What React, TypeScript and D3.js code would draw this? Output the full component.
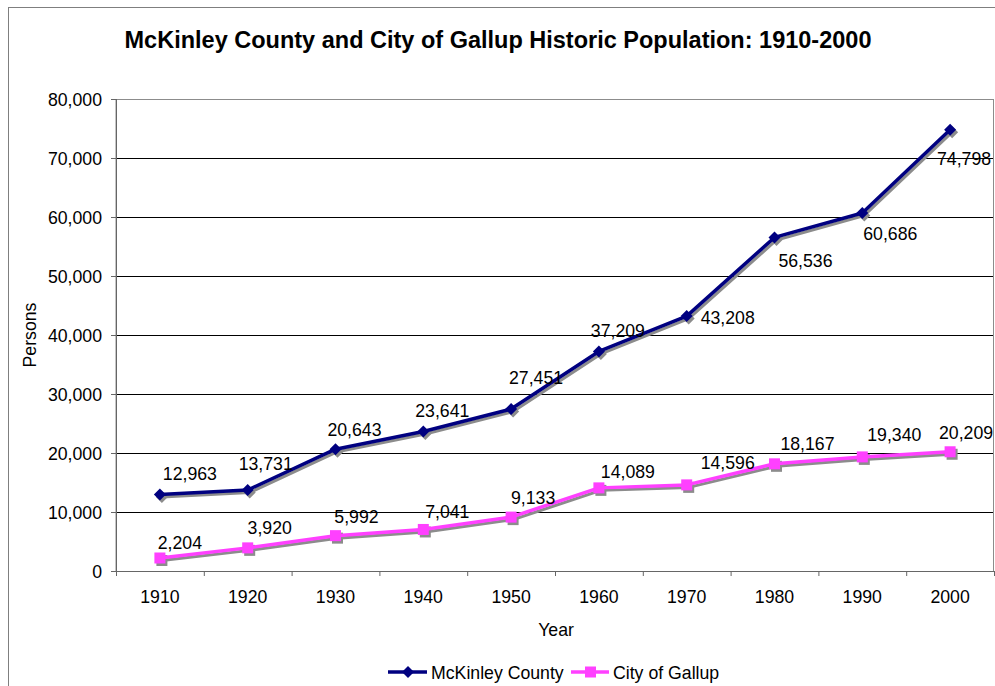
import React from "react";
import * as d3 from "d3";

const years = ["1910", "1920", "1930", "1940", "1950", "1960", "1970", "1980", "1990", "2000"];
const mckinley = [12963, 13731, 20643, 23641, 27451, 37209, 43208, 56536, 60686, 74798];
const gallup = [2204, 3920, 5992, 7041, 9133, 14089, 14596, 18167, 19340, 20209];
const yTicks = [0, 10000, 20000, 30000, 40000, 50000, 60000, 70000, 80000];

// label placement offsets (styling, not data)
const mcLabelOffsets: [number, number][] = [
  [30, -21], [18, -26], [19, -20], [19, -21], [25, -32], [19, -21], [41, 1], [31, 23], [28, 21], [14, 29],
];
const gaLabelOffsets: [number, number][] = [
  [20, -15], [22, -20], [21, -19], [24, -18], [22, -20], [29, -16], [41, -22], [33, -20], [32, -22], [16, -19],
];

const W = 995;
const H = 686;
const FONT = "'Liberation Sans', Arial, sans-serif";
const NAVY = "#000080";
const MAGENTA = "#FF40FF";
const SHADOW = "#8c8c8c";
const FS = 17.7;

export default function App() {
  const left = 116, right = 994, top = 99, bottom = 571;
  const x = d3.scaleBand<string>().domain(years).range([left, right]).paddingInner(0).paddingOuter(0);
  const y = d3.scaleLinear().domain([0, 80000]).range([bottom, top]);
  const cx = (yr: string) => (x(yr) as number) + x.bandwidth() / 2;
  const fmt = d3.format(",");

  const line = d3.line<number>().x((_, i) => cx(years[i])).y((d) => y(d));

  const diamond = (px: number, py: number, s = 6) =>
    `M${px},${py - s}L${px + s},${py}L${px},${py + s}L${px - s},${py}Z`;

  const series = [
    { name: "McKinley County", values: mckinley, color: NAVY, marker: "diamond", offsets: mcLabelOffsets },
    { name: "City of Gallup", values: gallup, color: MAGENTA, marker: "square", offsets: gaLabelOffsets },
  ];

  const drawMarker = (kind: string, px: number, py: number, fill: string, key: string) =>
    kind === "diamond" ? (
      <path key={key} d={diamond(px, py)} fill={fill} />
    ) : (
      <rect key={key} x={px - 5.5} y={py - 5.5} width={11} height={11} fill={fill} />
    );

  return (
    <svg
      width={W}
      height={H}
      style={{ position: "absolute", left: 0, top: 0, background: "#fff" }}
      fontFamily={FONT}
    >
      <rect x={0} y={0} width={W} height={H} fill="#fff" />
      <rect x={8.5} y={7.5} width={1000} height={700} fill="#fff" stroke="#7f7f7f" strokeWidth={1} />
      <text x={498} y={48} textAnchor="middle" fontSize={23.5} fontWeight="bold" fill="#000">
        McKinley County and City of Gallup Historic Population: 1910-2000
      </text>

      {/* plot area border */}
      <rect x={left} y={top + 0.5} width={right - left - 0.5} height={bottom - top} fill="none" stroke="#8c8c8c" strokeWidth={1} />

      {/* gridlines */}
      {yTicks.filter((t) => t > 0 && t < 80000).map((t) => (
        <line key={t} x1={left} x2={right - 1} y1={y(t) + 0.5} y2={y(t) + 0.5} stroke="#000" strokeWidth={1} />
      ))}

      {/* y axis */}
      <line x1={left + 0.5} x2={left + 0.5} y1={top} y2={bottom + 5} stroke="#666" strokeWidth={1} />
      {yTicks.map((t) => (
        <g key={t}>
          <line x1={left - 5} x2={left} y1={y(t) + 0.5} y2={y(t) + 0.5} stroke="#666" />
          <text x={102} y={y(t) + 6.5} textAnchor="end" fontSize={FS} fill="#000">
            {fmt(t)}
          </text>
        </g>
      ))}

      {/* x axis */}
      <line x1={left} x2={right} y1={bottom + 0.5} y2={bottom + 0.5} stroke="#666" strokeWidth={1} />
      {years.map((yr) => (
        <g key={yr}>
          <line x1={(x(yr) as number) + x.bandwidth() + 0.5} x2={(x(yr) as number) + x.bandwidth() + 0.5} y1={bottom} y2={bottom + 5} stroke="#666" />
          <text x={cx(yr)} y={bottom + 32} textAnchor="middle" fontSize={FS} fill="#000">
            {yr}
          </text>
        </g>
      ))}

      <text x={556} y={636} textAnchor="middle" fontSize={FS} fill="#000">Year</text>
      <text transform={`translate(36,335) rotate(-90)`} textAnchor="middle" fontSize={FS} fill="#000">Persons</text>

      {/* series shadows */}
      {series.map((s) => (
        <g key={s.name + "-shadow"} transform="translate(2,2.5)">
          <path d={line(s.values) as string} fill="none" stroke={SHADOW} strokeWidth={3} strokeLinejoin="round" />
          {s.values.map((v, i) => drawMarker(s.marker, cx(years[i]), y(v), SHADOW, s.name + "sh" + i))}
        </g>
      ))}
      {/* series */}
      {series.map((s) => (
        <g key={s.name}>
          <path d={line(s.values) as string} fill="none" stroke={s.color} strokeWidth={3.5} strokeLinejoin="round" />
          {s.values.map((v, i) => drawMarker(s.marker, cx(years[i]), y(v), s.color, s.name + "m" + i))}
        </g>
      ))}
      {/* data labels */}
      {series.map((s) =>
        s.values.map((v, i) => (
          <text
            key={s.name + "l" + i}
            x={cx(years[i]) + s.offsets[i][0]}
            y={y(v) + s.offsets[i][1] + 6.5}
            textAnchor="middle"
            fontSize={FS}
            fill="#000"
          >
            {fmt(v)}
          </text>
        ))
      )}

      {/* legend */}
      <g>
        <line x1={388} x2={427} y1={672} y2={672} stroke={NAVY} strokeWidth={3.5} />
        <path d={diamond(408, 672)} fill={NAVY} />
        <text x={431} y={678.5} fontSize={FS} fill="#000">McKinley County</text>
        <line x1={571} x2={609} y1={672} y2={672} stroke={MAGENTA} strokeWidth={3.5} />
        <rect x={585} y={666.5} width={11} height={11} fill={MAGENTA} />
        <text x={613} y={678.5} fontSize={FS} fill="#000">City of Gallup</text>
      </g>
    </svg>
  );
}
